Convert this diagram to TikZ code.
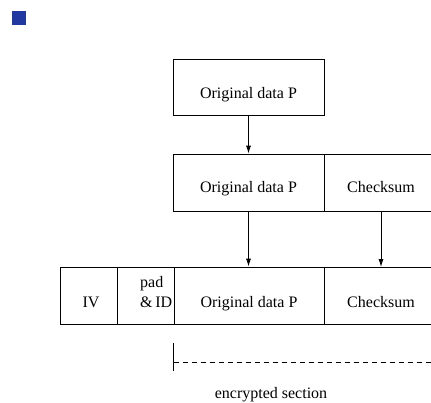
\documentclass[tikz,border=0pt]{standalone}
\usepackage{fontspec}
\setmainfont{Liberation Serif}
\usetikzlibrary{arrows.meta}
\definecolor{sqblue}{RGB}{32,56,160}
\begin{document}
\begin{tikzpicture}[x=1bp,y=-1bp,
  box/.style={draw,line width=0.8bp,inner sep=0pt,minimum height=57bp},
  lbl/.style={inner sep=0pt,anchor=base,font=\fontsize{16bp}{19bp}\selectfont},
  arr/.style={line width=0.8bp,-{Latex[length=8bp,width=5bp]}},
  ln/.style={line width=0.8bp}
]
\useasboundingbox (0,0) rectangle (431,403);
\begin{scope}
\clip (0,0) rectangle (431,403);
\node[fill=sqblue,minimum size=14bp,inner sep=0pt] (bullet) at (19,18) {};

% top box
\node[box,minimum width=151bp,minimum height=56bp] (p1) at (248.5,87) {};
\node[lbl] (p1t) at (248.5,98) {Original data P};

% middle row
\node[box,minimum width=151bp] (m1) at (248.5,182.5) {};
\node[box,minimum width=116bp] (m2) at (382,182.5) {};
\node[lbl] (m1t) at (248.5,192) {Original data P};
\node[lbl] (m2t) at (381,192) {Checksum};

% bottom row
\node[box,minimum width=57bp] (b1) at (88.5,295.5) {};
\node[box,minimum width=57bp] (b2) at (145.5,295.5) {};
\node[box,minimum width=150bp] (b3) at (249,295.5) {};
\node[box,minimum width=116bp] (b4) at (382,295.5) {};
\node[lbl] (b1t) at (91,307) {IV};
\node[lbl,anchor=base west] (b2a) at (140,287) {pad};
\node[lbl,anchor=base west] (b2b) at (140,307) {\&\,ID};
\node[lbl] (b3t) at (249,307) {Original data P};
\node[lbl] (b4t) at (381,307) {Checksum};

% arrows
\coordinate (c1) at (381,211);
\coordinate (c2) at (381,267);
\draw[arr] (p1.south) -- (m1.north);
\draw[arr] (m1.south) -- (b3.north -| m1.south);
\draw[arr] (c1) -- (c2);

% encrypted section marker
\coordinate (t1) at (173.5,343);
\coordinate (t2) at (173.5,371);
\coordinate (d1) at (173.5,362);
\coordinate (d2) at (440,362);
\draw[ln] (t1) -- (t2);
\draw[ln,dash pattern=on 5bp off 4bp] (d1) -- (d2);
\node[lbl] (enc) at (271,398) {encrypted section};
\end{scope}
\end{tikzpicture}
\end{document}
